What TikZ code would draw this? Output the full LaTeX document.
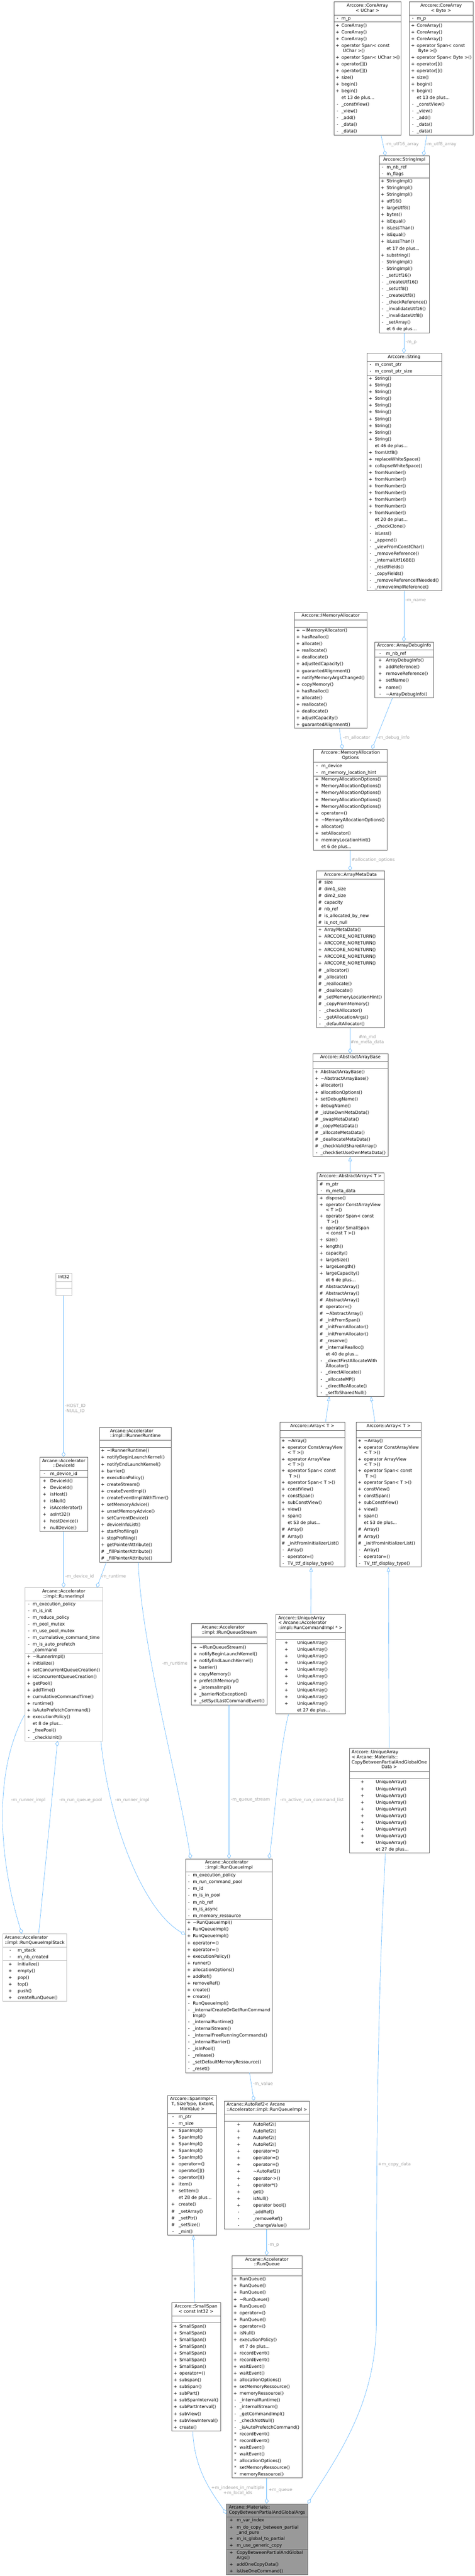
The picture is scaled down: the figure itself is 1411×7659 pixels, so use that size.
\documentclass[tikz,border=0pt]{standalone}
\usepackage{fontspec}
\setmainfont{DejaVu Sans}
\usetikzlibrary{shapes.multipart,arrows.meta,calc}

\newcommand\nodefont{\fontsize{9.75pt}{15pt}\selectfont}
\newcommand\lblfont{\fontsize{9.75pt}{11.25pt}\selectfont}
% title part: lines left in a centred block, last line centred
\newcommand\hd[3]{\makebox[\dimexpr#1pt*3/4\relax]{\rule{0pt}{10.875pt}\def\arraystretch{0.75}\begin{tabular}[t]{@{}l@{}}#2\multicolumn{1}{@{}c@{}}{#3\rule[-6.375pt]{0pt}{0pt}}\end{tabular}}}
% member part: width, marker offset, text offset, rows
\newcommand\sect[4]{\makebox[\dimexpr#1pt*3/4\relax][l]{\def\mka{\dimexpr#2pt*3/4\relax}\def\mkb{\dimexpr#3pt*3/4\relax}\begin{tabular}{@{}l@{}}#4\end{tabular}}}
\newcommand\mm[2]{\hspace*{\mka}\makebox[0pt]{#1}\hspace*{\dimexpr\mkb-\mka\relax}#2}
\newcommand\twoln[2]{{\def\arraystretch{0.8}\begin{tabular}[t]{@{}l@{}}#1\\#2\end{tabular}}}
\newcommand\blank[1]{\makebox[\dimexpr#1pt*3/4\relax]{\rule[-4.5pt]{0pt}{15pt}}}
\newcommand\tl{\textasciitilde}

\begin{document}
\begin{tikzpicture}[x=0.75pt,y=-0.75pt,
  cls/.style={rectangle split, rectangle split parts=3, draw=boxline, fill=white, line width=0.75pt, inner sep=0pt, anchor=north west, font=\nodefont},
  ext/.style={cls, draw=boxpale},
  lbl/.style={anchor=west, inner sep=0pt, text=lblgray, font=\lblfont},
  has/.style={draw=edgeblue, line width=0.75pt, -{Diamond[open, length=12pt, width=8.25pt]}},
  isa/.style={draw=edgeblue, line width=0.75pt, -{Triangle[open, length=9.75pt, width=7.5pt]}}]
%Colors of boxes, edges and labels.
\definecolor{boxline}{RGB}{102,102,102}
\definecolor{boxpale}{RGB}{191,191,191}
\definecolor{argsfill}{RGB}{153,153,153}
\definecolor{edgeblue}{RGB}{99,184,255}
\definecolor{lblgray}{RGB}{160,160,160}

\path[fill=white] (0,0) rectangle (1411,7659);
\useasboundingbox (0,0) rectangle (1411,7659);

%Strings
\node[cls] (caU) at (992,5) {\hd{200}{Arccore::CoreArray\\}{< UChar >}
\nodepart{two}\sect{200}{11}{23}{\mm{-}{m\_p}}
\nodepart{three}\sect{200}{11}{23}{\mm{+}{CoreArray()}\\
\mm{+}{CoreArray()}\\
\mm{+}{CoreArray()}\\
\mm{+}{\twoln{operator Span< const}{\ UChar >()}}\\
\mm{+}{operator Span< UChar >()}\\
\mm{+}{operator[]()}\\
\mm{+}{operator[]()}\\
\mm{+}{size()}\\
\mm{+}{begin()}\\
\mm{+}{begin()}\\
\mm{}{et 13 de plus...}\\
\mm{-}{\_constView()}\\
\mm{-}{\_view()}\\
\mm{-}{\_add()}\\
\mm{-}{\_data()}\\
\mm{-}{\_data()}}};

\node[cls] (caB) at (1216,5) {\hd{190}{Arccore::CoreArray\\}{< Byte >}
\nodepart{two}\sect{190}{11}{23}{\mm{-}{m\_p}}
\nodepart{three}\sect{190}{11}{23}{\mm{+}{CoreArray()}\\
\mm{+}{CoreArray()}\\
\mm{+}{CoreArray()}\\
\mm{+}{\twoln{operator Span< const}{\ Byte >()}}\\
\mm{+}{operator Span< Byte >()}\\
\mm{+}{operator[]()}\\
\mm{+}{operator[]()}\\
\mm{+}{size()}\\
\mm{+}{begin()}\\
\mm{+}{begin()}\\
\mm{}{et 13 de plus...}\\
\mm{-}{\_constView()}\\
\mm{-}{\_view()}\\
\mm{-}{\_add()}\\
\mm{-}{\_data()}\\
\mm{-}{\_data()}}};

\node[cls] (strImpl) at (1127,463) {\hd{149}{}{Arccore::StringImpl}
\nodepart{two}\sect{149}{10}{22}{\mm{-}{m\_nb\_ref}\\
\mm{-}{m\_flags}}
\nodepart{three}\sect{149}{10}{22}{\mm{+}{StringImpl()}\\
\mm{+}{StringImpl()}\\
\mm{+}{StringImpl()}\\
\mm{+}{utf16()}\\
\mm{+}{largeUtf8()}\\
\mm{+}{bytes()}\\
\mm{+}{isEqual()}\\
\mm{+}{isLessThan()}\\
\mm{+}{isEqual()}\\
\mm{+}{isLessThan()}\\
\mm{}{et 17 de plus...}\\
\mm{+}{substring()}\\
\mm{-}{StringImpl()}\\
\mm{-}{StringImpl()}\\
\mm{-}{\_setUtf16()}\\
\mm{-}{\_createUtf16()}\\
\mm{-}{\_setUtf8()}\\
\mm{-}{\_createUtf8()}\\
\mm{-}{\_checkReference()}\\
\mm{-}{\_invalidateUtf16()}\\
\mm{-}{\_invalidateUtf8()}\\
\mm{-}{\_setArray()}\\
\mm{}{et 6 de plus...}}};

\node[cls] (str) at (1090,1050) {\hd{222}{}{Arccore::String}
\nodepart{two}\sect{222}{11}{24}{\mm{-}{m\_const\_ptr}\\
\mm{-}{m\_const\_ptr\_size}}
\nodepart{three}\sect{222}{11}{24}{\mm{+}{String()}\\
\mm{+}{String()}\\
\mm{+}{String()}\\
\mm{+}{String()}\\
\mm{+}{String()}\\
\mm{+}{String()}\\
\mm{+}{String()}\\
\mm{+}{String()}\\
\mm{+}{String()}\\
\mm{+}{String()}\\
\mm{}{et 46 de plus...}\\
\mm{+}{fromUtf8()}\\
\mm{+}{replaceWhiteSpace()}\\
\mm{+}{collapseWhiteSpace()}\\
\mm{+}{fromNumber()}\\
\mm{+}{fromNumber()}\\
\mm{+}{fromNumber()}\\
\mm{+}{fromNumber()}\\
\mm{+}{fromNumber()}\\
\mm{+}{fromNumber()}\\
\mm{+}{fromNumber()}\\
\mm{}{et 20 de plus...}\\
\mm{-}{\_checkClone()}\\
\mm{-}{isLess()}\\
\mm{-}{\_append()}\\
\mm{-}{\_viewFromConstChar()}\\
\mm{-}{\_removeReference()}\\
\mm{-}{\_internalUtf16BE()}\\
\mm{-}{\_resetFields()}\\
\mm{-}{\_copyFields()}\\
\mm{-}{\_removeReferenceIfNeeded()}\\
\mm{-}{\_removeImplReference()}}};

%Arrays
\node[cls] (dbg) at (1114,1908) {\hd{174}{}{Arccore::ArrayDebugInfo}
\nodepart{two}\sect{174}{16}{33}{\mm{-}{m\_nb\_ref}}
\nodepart{three}\sect{174}{16}{33}{\mm{+}{ArrayDebugInfo()}\\
\mm{+}{addReference()}\\
\mm{+}{removeReference()}\\
\mm{+}{setName()}\\
\mm{+}{name()}\\
\mm{-}{\tl ArrayDebugInfo()}}};

\node[cls] (alloc) at (874,1819) {\hd{217}{}{Arccore::IMemoryAllocator}
\nodepart{two}\blank{217}
\nodepart{three}\sect{217}{12}{23}{\mm{+}{\tl IMemoryAllocator()}\\
\mm{+}{hasRealloc()}\\
\mm{+}{allocate()}\\
\mm{+}{reallocate()}\\
\mm{+}{deallocate()}\\
\mm{+}{adjustedCapacity()}\\
\mm{+}{guarantedAlignment()}\\
\mm{+}{notifyMemoryArgsChanged()}\\
\mm{+}{copyMemory()}\\
\mm{+}{hasRealloc()}\\
\mm{+}{allocate()}\\
\mm{+}{reallocate()}\\
\mm{+}{deallocate()}\\
\mm{+}{adjustCapacity()}\\
\mm{+}{guarantedAlignment()}}};

\node[cls] (mao) at (932,2227) {\hd{219}{Arccore::MemoryAllocation\\}{Options}
\nodepart{two}\sect{219}{10}{23}{\mm{-}{m\_device}\\
\mm{-}{m\_memory\_location\_hint}}
\nodepart{three}\sect{219}{10}{23}{\mm{+}{MemoryAllocationOptions()}\\
\mm{+}{MemoryAllocationOptions()}\\
\mm{+}{MemoryAllocationOptions()}\\
\mm{+}{MemoryAllocationOptions()}\\
\mm{+}{MemoryAllocationOptions()}\\
\mm{+}{operator=()}\\
\mm{+}{\tl MemoryAllocationOptions()}\\
\mm{+}{allocator()}\\
\mm{+}{setAllocator()}\\
\mm{+}{memoryLocationHint()}\\
\mm{}{et 6 de plus...}}};

\node[cls] (meta) at (941,2589) {\hd{201}{}{Arccore::ArrayMetaData}
\nodepart{two}\sect{201}{10}{23}{\mm{\#}{size}\\
\mm{\#}{dim1\_size}\\
\mm{\#}{dim2\_size}\\
\mm{\#}{capacity}\\
\mm{\#}{nb\_ref}\\
\mm{\#}{is\_allocated\_by\_new}\\
\mm{\#}{is\_not\_null}}
\nodepart{three}\sect{201}{10}{23}{\mm{+}{ArrayMetaData()}\\
\mm{+}{ARCCORE\_NORETURN()}\\
\mm{+}{ARCCORE\_NORETURN()}\\
\mm{+}{ARCCORE\_NORETURN()}\\
\mm{+}{ARCCORE\_NORETURN()}\\
\mm{+}{ARCCORE\_NORETURN()}\\
\mm{\#}{\_allocator()}\\
\mm{\#}{\_allocate()}\\
\mm{\#}{\_reallocate()}\\
\mm{\#}{\_deallocate()}\\
\mm{\#}{\_setMemoryLocationHint()}\\
\mm{\#}{\_copyFromMemory()}\\
\mm{-}{\_checkAllocator()}\\
\mm{-}{\_getAllocationArgs()}\\
\mm{-}{\_defaultAllocator()}}};

\node[cls] (aab) at (930,3132) {\hd{223}{}{Arccore::AbstractArrayBase}
\nodepart{two}\blank{223}
\nodepart{three}\sect{223}{11}{23}{\mm{+}{AbstractArrayBase()}\\
\mm{+}{\tl AbstractArrayBase()}\\
\mm{+}{allocator()}\\
\mm{+}{allocationOptions()}\\
\mm{+}{setDebugName()}\\
\mm{+}{debugName()}\\
\mm{\#}{\_isUseOwnMetaData()}\\
\mm{\#}{\_swapMetaData()}\\
\mm{\#}{\_copyMetaData()}\\
\mm{\#}{\_allocateMetaData()}\\
\mm{\#}{\_deallocateMetaData()}\\
\mm{\#}{\_checkValidSharedArray()}\\
\mm{-}{\_checkSetUseOwnMetaData()}}};

\node[cls] (absArr) at (942,3486) {\hd{199}{}{Arccore::AbstractArray< T >}
\nodepart{two}\sect{199}{13}{26}{\mm{\#}{m\_ptr}\\
\mm{-}{m\_meta\_data}}
\nodepart{three}\sect{199}{13}{26}{\mm{+}{dispose()}\\
\mm{+}{\twoln{operator ConstArrayView}{< T >()}}\\
\mm{+}{\twoln{operator Span< const}{\ T >()}}\\
\mm{+}{\twoln{operator SmallSpan}{< const T >()}}\\
\mm{+}{size()}\\
\mm{+}{length()}\\
\mm{+}{capacity()}\\
\mm{+}{largeSize()}\\
\mm{+}{largeLength()}\\
\mm{+}{largeCapacity()}\\
\mm{}{et 6 de plus...}\\
\mm{\#}{AbstractArray()}\\
\mm{\#}{AbstractArray()}\\
\mm{\#}{AbstractArray()}\\
\mm{\#}{operator=()}\\
\mm{\#}{\tl AbstractArray()}\\
\mm{\#}{\_initFromSpan()}\\
\mm{\#}{\_initFromAllocator()}\\
\mm{\#}{\_initFromAllocator()}\\
\mm{\#}{\_reserve()}\\
\mm{\#}{\_internalRealloc()}\\
\mm{}{et 40 de plus...}\\
\mm{-}{\twoln{\_directFirstAllocateWith}{Allocator()}}\\
\mm{-}{\_directAllocate()}\\
\mm{-}{\_allocateMP()}\\
\mm{-}{\_directReAllocate()}\\
\mm{-}{\_setToSharedNull()}}};

\node[cls] (arrL) at (832,4228) {\hd{192}{}{Arccore::Array< T >}
\nodepart{two}\blank{192}
\nodepart{three}\sect{192}{10}{23}{\mm{+}{\tl Array()}\\
\mm{+}{\twoln{operator ConstArrayView}{< T >()}}\\
\mm{+}{\twoln{operator ArrayView}{< T >()}}\\
\mm{+}{\twoln{operator Span< const}{\ T >()}}\\
\mm{+}{operator Span< T >()}\\
\mm{+}{constView()}\\
\mm{+}{constSpan()}\\
\mm{+}{subConstView()}\\
\mm{+}{view()}\\
\mm{+}{span()}\\
\mm{}{et 53 de plus...}\\
\mm{\#}{Array()}\\
\mm{\#}{Array()}\\
\mm{\#}{\_initFromInitializerList()}\\
\mm{-}{Array()}\\
\mm{-}{operator=()}\\
\mm{-}{TV\_ttf\_display\_type()}}};

\node[cls] (arrR) at (1059,4228) {\hd{192}{}{Arccore::Array< T >}
\nodepart{two}\blank{192}
\nodepart{three}\sect{192}{10}{23}{\mm{+}{\tl Array()}\\
\mm{+}{\twoln{operator ConstArrayView}{< T >()}}\\
\mm{+}{\twoln{operator ArrayView}{< T >()}}\\
\mm{+}{\twoln{operator Span< const}{\ T >()}}\\
\mm{+}{operator Span< T >()}\\
\mm{+}{constView()}\\
\mm{+}{constSpan()}\\
\mm{+}{subConstView()}\\
\mm{+}{view()}\\
\mm{+}{span()}\\
\mm{}{et 53 de plus...}\\
\mm{\#}{Array()}\\
\mm{\#}{Array()}\\
\mm{\#}{\_initFromInitializerList()}\\
\mm{-}{Array()}\\
\mm{-}{operator=()}\\
\mm{-}{TV\_ttf\_display\_type()}}};

\node[cls] (uaRC) at (819,4799) {\hd{207}{Arccore::UniqueArray\\< Arcane::Accelerator\\}{::impl::RunCommandImpl * >}
\nodepart{two}\blank{207}
\nodepart{three}\sect{207}{32}{64}{\mm{+}{UniqueArray()}\\
\mm{+}{UniqueArray()}\\
\mm{+}{UniqueArray()}\\
\mm{+}{UniqueArray()}\\
\mm{+}{UniqueArray()}\\
\mm{+}{UniqueArray()}\\
\mm{+}{UniqueArray()}\\
\mm{+}{UniqueArray()}\\
\mm{+}{UniqueArray()}\\
\mm{+}{UniqueArray()}\\
\mm{}{et 27 de plus...}}};

\node[cls] (uaCD) at (1038,5198) {\hd{238}{Arccore::UniqueArray\\< Arcane::Materials::\\CopyBetweenPartialAndGlobalOne\\}{Data >}
\nodepart{two}\blank{238}
\nodepart{three}\sect{238}{39}{79}{\mm{+}{UniqueArray()}\\
\mm{+}{UniqueArray()}\\
\mm{+}{UniqueArray()}\\
\mm{+}{UniqueArray()}\\
\mm{+}{UniqueArray()}\\
\mm{+}{UniqueArray()}\\
\mm{+}{UniqueArray()}\\
\mm{+}{UniqueArray()}\\
\mm{+}{UniqueArray()}\\
\mm{+}{UniqueArray()}\\
\mm{}{et 27 de plus...}}};

%Accelerator
\node[ext] (int32) at (166,3785) {\hd{47}{}{Int32}
\nodepart{two}\blank{47}
\nodepart{three}\blank{47}};

\node[cls] (devId) at (118,4332) {\hd{142}{Arcane::Accelerator\\}{::DeviceId}
\nodepart{two}\sect{142}{14}{31}{\mm{-}{m\_device\_id}}
\nodepart{three}\sect{142}{14}{31}{\mm{+}{DeviceId()}\\
\mm{+}{DeviceId()}\\
\mm{+}{isHost()}\\
\mm{+}{isNull()}\\
\mm{+}{isAccelerator()}\\
\mm{+}{asInt32()}\\
\mm{+}{hostDevice()}\\
\mm{+}{nullDevice()}}};

\node[cls] (runtime) at (295,4243) {\hd{214}{Arcane::Accelerator\\}{::impl::IRunnerRuntime}
\nodepart{two}\blank{214}
\nodepart{three}\sect{214}{10}{22}{\mm{+}{\tl IRunnerRuntime()}\\
\mm{+}{notifyBeginLaunchKernel()}\\
\mm{+}{notifyEndLaunchKernel()}\\
\mm{+}{barrier()}\\
\mm{+}{executionPolicy()}\\
\mm{+}{createStream()}\\
\mm{+}{createEventImpl()}\\
\mm{+}{createEventImplWithTimer()}\\
\mm{+}{setMemoryAdvice()}\\
\mm{+}{unsetMemoryAdvice()}\\
\mm{+}{setCurrentDevice()}\\
\mm{+}{deviceInfoList()}\\
\mm{+}{startProfiling()}\\
\mm{+}{stopProfiling()}\\
\mm{+}{getPointerAttribute()}\\
\mm{\#}{\_fillPointerAttribute()}\\
\mm{\#}{\_fillPointerAttribute()}}};

\node[ext] (runner) at (73,4720) {\hd{232}{Arcane::Accelerator\\}{::impl::RunnerImpl}
\nodepart{two}\sect{232}{12}{24}{\mm{-}{m\_execution\_policy}\\
\mm{-}{m\_is\_init}\\
\mm{-}{m\_reduce\_policy}\\
\mm{-}{m\_pool\_mutex}\\
\mm{-}{m\_use\_pool\_mutex}\\
\mm{-}{m\_cumulative\_command\_time}\\
\mm{-}{\twoln{m\_is\_auto\_prefetch}{\_command}}}
\nodepart{three}\sect{232}{12}{24}{\mm{+}{\tl RunnerImpl()}\\
\mm{+}{initialize()}\\
\mm{+}{setConcurrentQueueCreation()}\\
\mm{+}{isConcurrentQueueCreation()}\\
\mm{+}{getPool()}\\
\mm{+}{addTime()}\\
\mm{+}{cumulativeCommandTime()}\\
\mm{+}{runtime()}\\
\mm{+}{isAutoPrefetchCommand()}\\
\mm{+}{executionPolicy()}\\
\mm{}{et 8 de plus...}\\
\mm{-}{\_freePool()}\\
\mm{-}{\_checkIsInit()}}};

\node[cls] (stream) at (569,4827) {\hd{224}{Arcane::Accelerator\\}{::impl::IRunQueueStream}
\nodepart{two}\blank{224}
\nodepart{three}\sect{224}{11}{23}{\mm{+}{\tl IRunQueueStream()}\\
\mm{+}{notifyBeginLaunchKernel()}\\
\mm{+}{notifyEndLaunchKernel()}\\
\mm{+}{barrier()}\\
\mm{+}{copyMemory()}\\
\mm{+}{prefetchMemory()}\\
\mm{+}{\_internalImpl()}\\
\mm{+}{\_barrierNoException()}\\
\mm{+}{\_setSyclLastCommandEvent()}}};

\node[cls] (rqi) at (551,5526) {\hd{258}{Arcane::Accelerator\\}{::impl::RunQueueImpl}
\nodepart{two}\sect{258}{10}{22}{\mm{-}{m\_execution\_policy}\\
\mm{-}{m\_run\_command\_pool}\\
\mm{-}{m\_id}\\
\mm{-}{m\_is\_in\_pool}\\
\mm{-}{m\_nb\_ref}\\
\mm{-}{m\_is\_async}\\
\mm{-}{m\_memory\_ressource}}
\nodepart{three}\sect{258}{10}{22}{\mm{+}{\tl RunQueueImpl()}\\
\mm{+}{RunQueueImpl()}\\
\mm{+}{RunQueueImpl()}\\
\mm{+}{operator=()}\\
\mm{+}{operator=()}\\
\mm{+}{executionPolicy()}\\
\mm{+}{runner()}\\
\mm{+}{allocationOptions()}\\
\mm{+}{addRef()}\\
\mm{+}{removeRef()}\\
\mm{+}{create()}\\
\mm{+}{create()}\\
\mm{-}{RunQueueImpl()}\\
\mm{-}{\twoln{\_internalCreateOrGetRunCommand}{Impl()}}\\
\mm{-}{\_internalRuntime()}\\
\mm{-}{\_internalStream()}\\
\mm{-}{\_internalFreeRunningCommands()}\\
\mm{-}{\_internalBarrier()}\\
\mm{-}{\_isInPool()}\\
\mm{-}{\_release()}\\
\mm{-}{\_setDefaultMemoryRessource()}\\
\mm{-}{\_reset()}}};

\node[ext] (stack) at (7,5749) {\hd{191}{Arcane::Accelerator\\}{::impl::RunQueueImplStack}
\nodepart{two}\sect{191}{23}{45}{\mm{-}{m\_stack}\\
\mm{-}{m\_nb\_created}}
\nodepart{three}\sect{191}{23}{45}{\mm{+}{initialize()}\\
\mm{+}{empty()}\\
\mm{+}{pop()}\\
\mm{+}{top()}\\
\mm{+}{push()}\\
\mm{+}{createRunQueue()}}};

\node[cls] (autoRef) at (667,6246) {\hd{252}{Arcane::AutoRef2< Arcane\\}{::Accelerator::impl::RunQueueImpl >}
\nodepart{two}\blank{252}
\nodepart{three}\sect{252}{42}{85}{\mm{+}{AutoRef2()}\\
\mm{+}{AutoRef2()}\\
\mm{+}{AutoRef2()}\\
\mm{+}{AutoRef2()}\\
\mm{+}{operator=()}\\
\mm{+}{operator=()}\\
\mm{+}{operator=()}\\
\mm{+}{\tl AutoRef2()}\\
\mm{+}{operator->()}\\
\mm{+}{operator*()}\\
\mm{+}{get()}\\
\mm{+}{isNull()}\\
\mm{+}{operator bool()}\\
\mm{-}{\_addRef()}\\
\mm{-}{\_removeRef()}\\
\mm{-}{\_changeValue()}}};

\node[cls] (spanImpl) at (498,6229) {\hd{146}{Arccore::SpanImpl<\\\ T, SizeType, Extent,\\}{MinValue >}
\nodepart{two}\sect{146}{16}{33}{\mm{-}{m\_ptr}\\
\mm{-}{m\_size}}
\nodepart{three}\sect{146}{16}{33}{\mm{+}{SpanImpl()}\\
\mm{+}{SpanImpl()}\\
\mm{+}{SpanImpl()}\\
\mm{+}{SpanImpl()}\\
\mm{+}{SpanImpl()}\\
\mm{+}{operator=()}\\
\mm{+}{operator[]()}\\
\mm{+}{operator()()}\\
\mm{+}{item()}\\
\mm{+}{setItem()}\\
\mm{}{et 28 de plus...}\\
\mm{+}{create()}\\
\mm{\#}{\_setArray()}\\
\mm{\#}{\_setPtr()}\\
\mm{\#}{\_setSize()}\\
\mm{-}{\_min()}}};

\node[cls] (smallSpan) at (510,6846) {\hd{145}{Arccore::SmallSpan\\}{< const Int32 >}
\nodepart{two}\blank{145}
\nodepart{three}\sect{145}{11}{23}{\mm{+}{SmallSpan()}\\
\mm{+}{SmallSpan()}\\
\mm{+}{SmallSpan()}\\
\mm{+}{SmallSpan()}\\
\mm{+}{SmallSpan()}\\
\mm{+}{SmallSpan()}\\
\mm{+}{SmallSpan()}\\
\mm{+}{operator=()}\\
\mm{+}{subspan()}\\
\mm{+}{subSpan()}\\
\mm{+}{subPart()}\\
\mm{+}{subSpanInterval()}\\
\mm{+}{subPartInterval()}\\
\mm{+}{subView()}\\
\mm{+}{subViewInterval()}\\
\mm{+}{create()}}};

\node[cls] (runQueue) at (689,6706) {\hd{208}{Arcane::Accelerator\\}{::RunQueue}
\nodepart{two}\blank{208}
\nodepart{three}\sect{208}{10}{23}{\mm{+}{RunQueue()}\\
\mm{+}{RunQueue()}\\
\mm{+}{RunQueue()}\\
\mm{+}{\tl RunQueue()}\\
\mm{+}{RunQueue()}\\
\mm{+}{operator=()}\\
\mm{+}{RunQueue()}\\
\mm{+}{operator=()}\\
\mm{+}{isNull()}\\
\mm{+}{executionPolicy()}\\
\mm{}{et 7 de plus...}\\
\mm{+}{recordEvent()}\\
\mm{+}{recordEvent()}\\
\mm{+}{waitEvent()}\\
\mm{+}{waitEvent()}\\
\mm{+}{allocationOptions()}\\
\mm{+}{setMemoryRessource()}\\
\mm{+}{memoryRessource()}\\
\mm{-}{\_internalRuntime()}\\
\mm{-}{\_internalStream()}\\
\mm{-}{\_getCommandImpl()}\\
\mm{-}{\_checkNotNull()}\\
\mm{-}{\_isAutoPrefetchCommand()}\\
\mm{*}{recordEvent()}\\
\mm{*}{recordEvent()}\\
\mm{*}{waitEvent()}\\
\mm{*}{waitEvent()}\\
\mm{*}{allocationOptions()}\\
\mm{*}{setMemoryRessource()}\\
\mm{*}{memoryRessource()}}};

\node[cls, fill=argsfill] (args) at (673,7444) {\hd{241}{Arcane::Materials::\\}{CopyBetweenPartialAndGlobalArgs}
\nodepart{two}\sect{241}{14}{30}{\mm{+}{m\_var\_index}\\
\mm{+}{\twoln{m\_do\_copy\_between\_partial}{\_and\_pure}}\\
\mm{+}{m\_is\_global\_to\_partial}\\
\mm{+}{m\_use\_generic\_copy}}
\nodepart{three}\sect{241}{14}{30}{\mm{+}{\twoln{CopyBetweenPartialAndGlobal}{Args()}}\\
\mm{+}{addOneCopyData()}\\
\mm{+}{isUseOneCommand()}}};

%Edges
\draw[has] ($(caU.south west)+(141,0)$) -- ($(strImpl.north west)+(19,0)$);
\draw[has] ($(caB.south west)+(53,0)$) -- ($(strImpl.north west)+(132,0)$);
\draw[has] ($(strImpl.south west)+(74,0)$) -- ($(str.north west)+(111,0)$);
\draw[has] ($(str.south west)+(111,0)$) -- ($(dbg.north west)+(87,0)$);
\draw[has] ($(dbg.south west)+(53,0)$) -- ($(mao.north west)+(174,0)$);
\draw[has] ($(alloc.south west)+(135,0)$) -- ($(mao.north west)+(86,0)$);
\draw[has] ($(mao.south west)+(109,0)$) -- ($(meta.north west)+(100,0)$);
\draw[has] ($(meta.south west)+(100,0)$) -- ($(aab.north west)+(111,0)$);
\draw[isa] ($(absArr.north west)+(99,0)$) -- ($(aab.south west)+(111,0)$);
\draw[isa] ($(arrL.north west)+(136,0)$) -- ($(absArr.south west)+(37,0)$);
\draw[isa] ($(arrR.north west)+(56,0)$) -- ($(absArr.south west)+(161,0)$);
\draw[isa] ($(uaRC.north west)+(105,0)$) -- ($(arrL.south west)+(93,0)$);
\draw[isa] ($(uaCD.north west)+(119,0)$) -- ($(arrR.south west)+(96,0)$);
\draw[has] ($(int32.south west)+(23,0)$) -- ($(devId.north west)+(71,0)$);
\draw[has] ($(devId.south west)+(71,0)$) -- ($(runner.north west)+(116,0)$);
\draw[has] ($(runtime.south west)+(21,0)$) -- ($(runner.north west)+(215,0)$);
\draw[has] ($(runtime.south west)+(116,0)$) .. controls +(10,250) and +(-40,-250) .. ($(rqi.north west)+(16,0)$);
\draw[has] ($(stream.south west)+(112,0)$) -- ($(rqi.north west)+(130,0)$);
\draw[has] ($(uaRC.south west)+(39,0)$) .. controls +(-30,120) and +(15,-100) .. ($(rqi.north west)+(249,0)$);
\draw[has] ($(runner.north west)+(0,379)$) .. controls +(-85,151) and +(-77,-249) .. ($(stack.north west)+(58,0)$);
\draw[has] ($(stack.north west)+(108,0)$) -- ($(runner.south west)+(98,0)$);
\draw[has] ($(runner.south west)+(227,0)$) .. controls +(25,246) and +(-125,-72) .. ($(rqi.north west)+(0,226)$);
\draw[has] ($(rqi.south west)+(191,0)$) -- ($(autoRef.north west)+(88,0)$);
\draw[has] ($(autoRef.south west)+(126,0)$) -- ($(runQueue.north west)+(104,0)$);
\draw[isa] ($(smallSpan.north west)+(69,0)$) -- ($(spanImpl.south west)+(77,0)$);
\draw[has] ($(smallSpan.south west)+(63,0)$) .. controls +(5,120) and +(-40,-60) .. ($(args.north west)+(0,30)$);
\draw[has] ($(runQueue.south west)+(104,0)$) -- ($(args.north west)+(120,0)$);
\draw[has] ($(uaCD.south west)+(108,0)$) .. controls +(-21,394) and +(0,-600) .. (1119,6900) .. controls +(0,250) and +(86,-139) .. (args.north east);

%Edge labels
\node[lbl] (lbUtf16) at (1146,430) {-m\_utf16\_array};
\node[lbl] (lbUtf8) at (1266,430) {-m\_utf8\_array};
\node[lbl] (lbImpl) at (1206,1019) {-m\_p};
\node[lbl] (lbName) at (1205,1786) {-m\_name};
\node[lbl] (lbDebug) at (1122,2194) {-m\_debug\_info};
\node[lbl] (lbAlloc) at (1020,2194) {-m\_allocator};
\node[lbl] (lbOpts) at (1045,2557) {\#allocation\_options};
\node[lbl, anchor=center, align=center] (lbMeta) at (1092,3092) {\#m\_md\\\#m\_meta\_data};
\node[lbl, align=left] (lbIds) at (193,4189) {-HOST\_ID\\-NULL\_ID};
\node[lbl] (lbDev) at (194,4687) {-m\_device\_id};
\node[lbl] (lbRuntimeA) at (299,4687) {-m\_runtime};
\node[lbl] (lbRuntimeB) at (482,4946) {-m\_runtime};
\node[lbl] (lbStream) at (686,5352) {-m\_queue\_stream};
\node[lbl] (lbActive) at (833,5352) {-m\_active\_run\_command\_list};
\node[lbl] (lbRunnerA) at (33,5352) {-m\_runner\_impl};
\node[lbl] (lbPool) at (176,5352) {-m\_run\_queue\_pool};
\node[lbl] (lbRunnerB) at (342,5352) {-m\_runner\_impl};
\node[lbl] (lbValue) at (752,6197) {-m\_value};
\node[lbl] (lbRef) at (797,6675) {-m\_p};
\node[lbl] (lbCopy) at (1124,6436) {+m\_copy\_data};
\node[lbl, anchor=center, align=center] (lbIdx) at (707,7405) {+m\_indexes\_in\_multiple\\+m\_local\_ids};
\node[lbl] (lbQueue) at (798,7405) {+m\_queue};
\end{tikzpicture}
\end{document}
